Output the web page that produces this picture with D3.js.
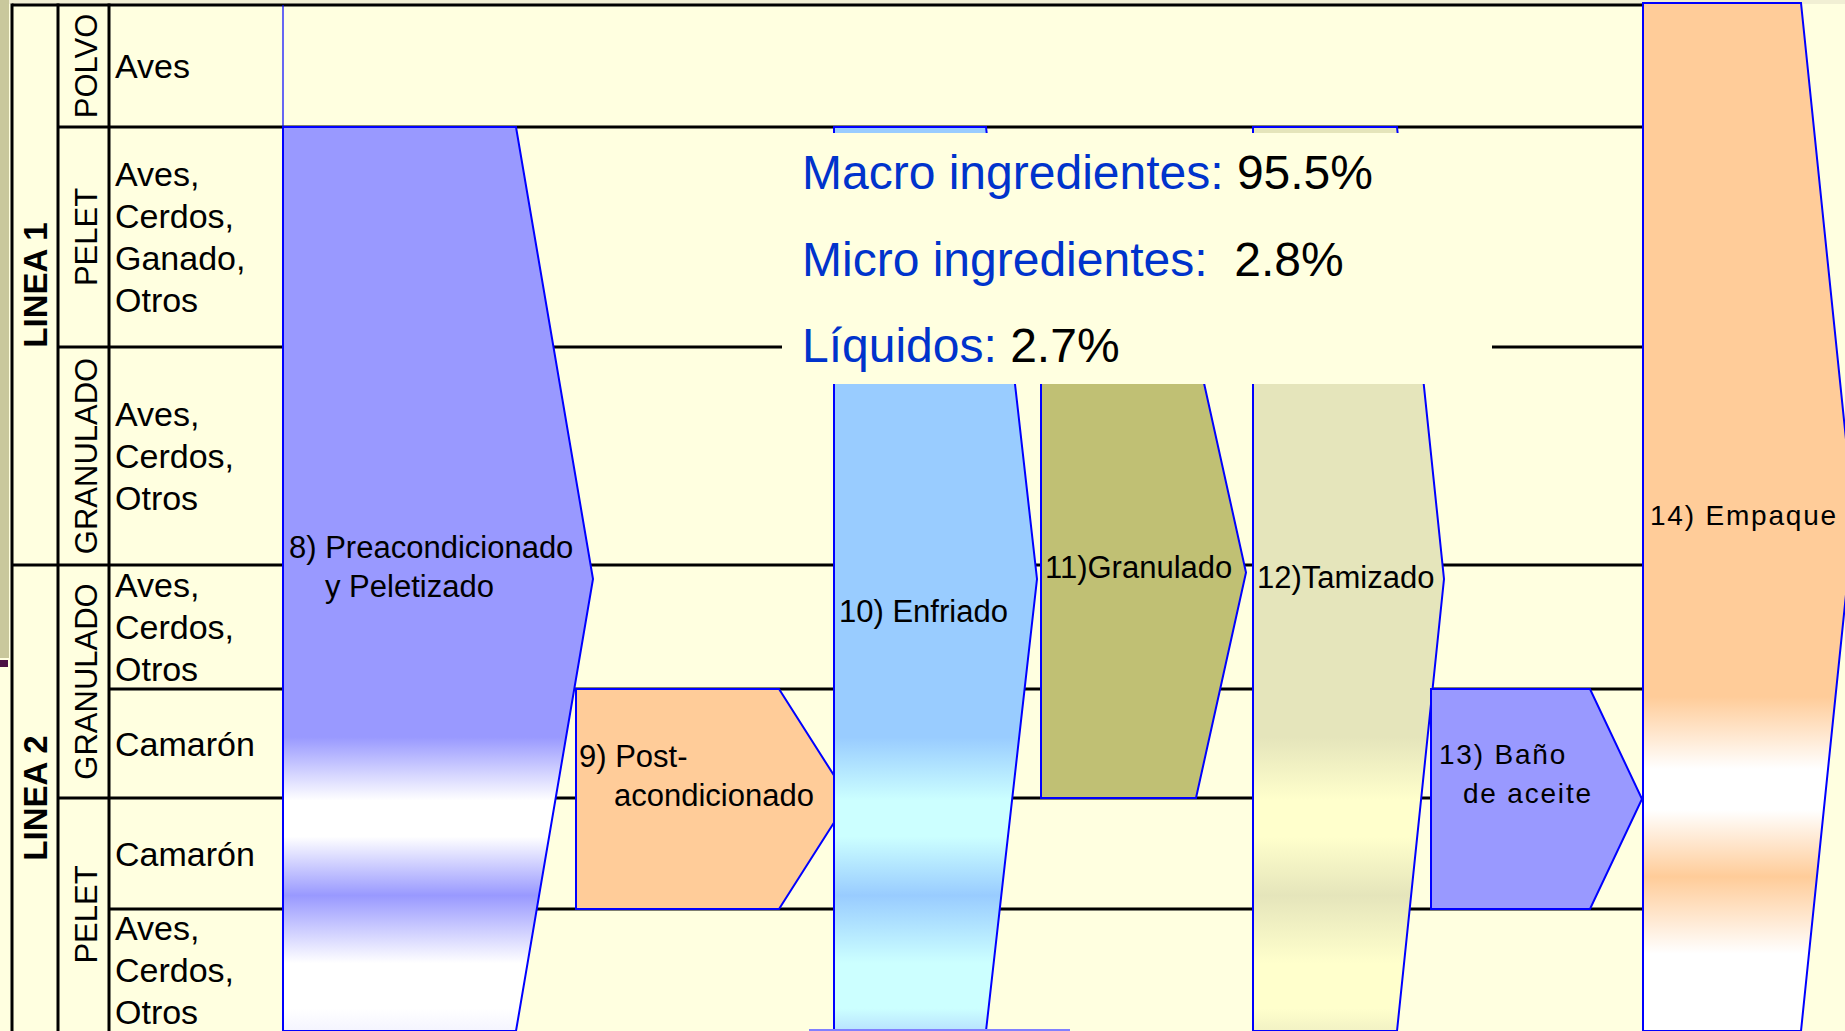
<!DOCTYPE html>
<meta charset="utf-8">
<style>
body { margin: 0; background: #ffffe0; }
svg { display: block; font-family: "Liberation Sans", Arial, sans-serif; }
</style>
<svg width="1845" height="1031"></svg>
<script src="https://d3js.org/d3.v7.min.js"></script>
<script>

// rows of the table (left side) and how they group
var lineas = ["LINEA 1", "LINEA 2"];
var lineaFilas = [[0, 3], [3, 7]];
var productos = ["POLVO", "PELET", "GRANULADO", "GRANULADO", "PELET"];
var productoFilas = [[0, 1], [1, 2], [2, 3], [3, 5], [5, 7]];
var especies = [
  ["Aves"],
  ["Aves,", "Cerdos,", "Ganado,", "Otros"],
  ["Aves,", "Cerdos,", "Otros"],
  ["Aves,", "Cerdos,", "Otros"],
  ["Camarón"],
  ["Camarón"],
  ["Aves,", "Cerdos,", "Otros"]
];

// process steps and the rows they cover
var pasos = [
  ["8) Preacondicionado", "y Peletizado"],
  ["9) Post-", "acondicionado"],
  ["10) Enfriado"],
  ["11)Granulado"],
  ["12)Tamizado"],
  ["13) Baño", "de aceite"],
  ["14) Empaque"]
];
var pasoFilas = [[1, 7], [4, 6], [1, 7], [2, 5], [1, 7], [4, 6], [0, 7]];

// formula
var ingredientes = ["Macro ingredientes: ", "Micro ingredientes:  ", "Líquidos: "];
var porcentajes = [95.5, 2.8, 2.7];

// ---- layout ----
var svg = d3.select("svg");
var W = 1845, H = 1031;

var y = d3.scaleLinear()
    .domain(d3.range(8))
    .range([5, 127, 347, 565, 689, 798, 909, 1031]);

// x of left edge, shoulder and tip for each step
var pasoX = [[283, 516, 593], [576, 779, 849], [834, 986, 1037], [1041, 1196, 1246],
             [1253, 1397, 1444], [1431, 1590, 1642], [1643, 1801, 1854]];
var pasoFill = ["url(#gPurple)", "#ffcc99", "url(#gBlue)", "#c0c074", "url(#gBeige)", "#9999ff", "url(#gOrange)"];
// label: x, first baseline, indent of 2nd line, font size, letter spacing
var pasoLabel = [[289, 558, 36, 31, 0], [579, 767, 35, 31, 0], [839, 622, 0, 31, 0],
                 [1045, 578, 0, 31, 0], [1257, 588, 0, 31, 0], [1439, 764, 24, 28, 1.8],
                 [1650, 525, 0, 28, 1.8]];
var lineStart = [12, 58, 58, 12, 109, 58, 109];
var endX = 1643;

// gradients (PowerPoint style bands at the bottom)
var defs = svg.append("defs");
function grad(id, main, light, endc) {
  var g = defs.append("linearGradient").attr("id", id)
      .attr("x1", 0).attr("y1", 0).attr("x2", 0).attr("y2", 1);
  [[0, main], [0.675, main], [0.745, light], [0.785, light], [0.85, main],
   [0.925, light], [0.975, light], [1, endc]].forEach(function(s) {
    g.append("stop").attr("offset", s[0]).attr("stop-color", s[1]);
  });
}
grad("gPurple", "#9999ff", "#ffffff", "#f4f4ff");
grad("gBlue", "#99ccff", "#ccffff", "#b8e2ff");
grad("gBeige", "#e5e5bb", "#ffffcc", "#f2f2c4");
grad("gOrange", "#ffcc99", "#ffffff", "#ffffff");

svg.append("rect").attr("width", W).attr("height", H).attr("fill", "#ffffe0");
svg.append("rect").attr("x", 9).attr("width", W).attr("height", 4).attr("fill", "#f1efd4");
svg.append("rect").attr("width", 9).attr("height", 658).attr("fill", "#c9c89c");
svg.append("rect").attr("y", 660).attr("width", 8).attr("height", 7).attr("fill", "#4b1042");

// grid lines
var grid = svg.append("g").attr("stroke", "#000").attr("stroke-width", 3);
grid.selectAll("line.h").data(d3.range(7)).enter().append("line")
    .attr("x1", function(i) { return lineStart[i]; })
    .attr("x2", endX)
    .attr("y1", function(i) { return y(i); })
    .attr("y2", function(i) { return y(i); });
[12, 58, 109].forEach(function(x) {
  grid.append("line").attr("x1", x).attr("x2", x).attr("y1", y(0) - 1.5).attr("y2", H);
});
svg.append("line").attr("x1", 283).attr("x2", 283).attr("y1", y(0)).attr("y2", y(1))
    .attr("stroke", "#0000ff").attr("stroke-width", 1.2);

// left labels
svg.selectAll("text.linea").data(lineas).enter().append("text")
    .attr("transform", function(d, i) {
      var f = lineaFilas[i];
      return "translate(47," + (y(f[0]) + y(f[1])) / 2 + ") rotate(-90)";
    })
    .attr("text-anchor", "middle").attr("font-size", 33).attr("font-weight", "bold")
    .text(function(d) { return d; });

svg.selectAll("text.prod").data(productos).enter().append("text")
    .attr("transform", function(d, i) {
      var f = productoFilas[i];
      return "translate(97," + (y(f[0]) + y(f[1])) / 2 + ") rotate(-90)";
    })
    .attr("text-anchor", "middle").attr("font-size", 31)
    .text(function(d) { return d; });

var esp = svg.selectAll("text.esp").data(especies).enter().append("text")
    .attr("font-size", 34)
    .attr("y", function(d, i) {
      return (y(i) + y(i + 1)) / 2 + 12 - (d.length - 1) * 21;
    });
esp.selectAll("tspan").data(function(d) { return d; }).enter().append("tspan")
    .attr("x", 115)
    .attr("dy", function(d, j) { return j ? 42 : 0; })
    .text(function(d) { return d; });

// process arrows
function arrow(i) {
  var p = pasoX[i], f = pasoFilas[i];
  var t = y(f[0]), b = y(f[1]);
  if (i == 6) t = 3;
  var m = (t + b) / 2;
  return [[p[0], t], [p[1], t], [p[2], m], [p[1], b], [p[0], b]];
}
[0, 1, 2, 3, 4].forEach(function(i) {
  svg.append("polygon").attr("points", arrow(i).join(" "))
      .attr("fill", pasoFill[i]).attr("stroke", "#0000ff").attr("stroke-width", 2);
});

// text box with the formula, drawn over the step tops
svg.append("rect").attr("x", 782).attr("y", 133).attr("width", 710).attr("height", 251)
    .attr("fill", "#ffffe0");

[5, 6].forEach(function(i) {
  svg.append("polygon").attr("points", arrow(i).join(" "))
      .attr("fill", pasoFill[i]).attr("stroke", "#0000ff").attr("stroke-width", 2);
});
svg.append("line").attr("x1", 809).attr("x2", 1070).attr("y1", 1030).attr("y2", 1030)
    .attr("stroke", "#8080ff").attr("stroke-width", 2);

var lab = svg.selectAll("text.paso").data(pasos).enter().append("text")
    .attr("font-size", function(d, i) { return pasoLabel[i][3]; })
    .attr("letter-spacing", function(d, i) { return pasoLabel[i][4]; })
    .attr("y", function(d, i) { return pasoLabel[i][1]; });
lab.selectAll("tspan").data(function(d, i) {
      return d.map(function(s, j) { return {s: s, j: j, i: i}; });
    }).enter().append("tspan")
    .attr("x", function(d) { return pasoLabel[d.i][0] + (d.j ? pasoLabel[d.i][2] : 0); })
    .attr("dy", function(d) { return d.j ? 39 : 0; })
    .text(function(d) { return d.s; });

var ing = svg.selectAll("text.ing").data(ingredientes).enter().append("text")
    .attr("x", 802)
    .attr("y", function(d, i) { return 189 + i * 86.5; })
    .attr("font-size", 48)
    .style("white-space", "pre");
ing.append("tspan").attr("fill", "#0033cc").text(function(d) { return d; });
ing.append("tspan").attr("fill", "#000").text(function(d, i) { return porcentajes[i] + "%"; });

</script>
